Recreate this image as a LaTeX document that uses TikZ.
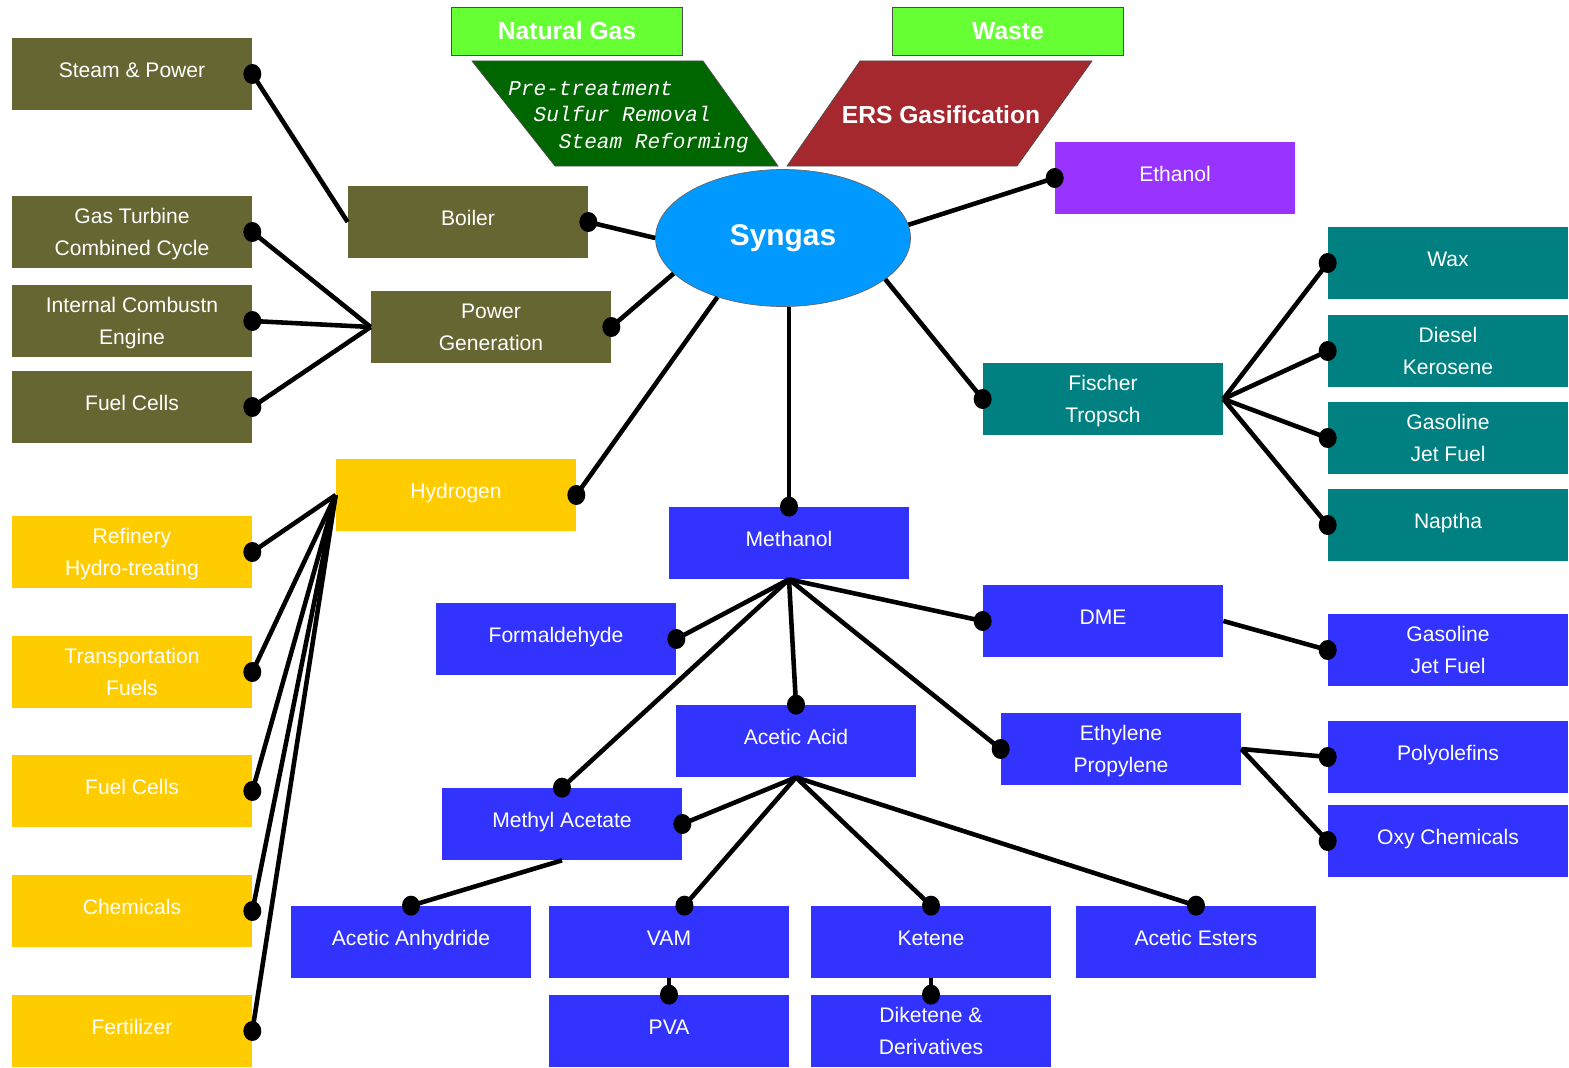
\documentclass[tikz,border=0pt]{standalone}
\usepackage{fontspec}
\setmainfont{Liberation Sans}
\newfontfamily\stepfont{Liberation Mono}
\usetikzlibrary{shapes.geometric}

\definecolor{oliveC}{HTML}{666633}
\definecolor{yellowC}{HTML}{FFCC00}
\definecolor{blueC}{HTML}{3333FF}
\definecolor{tealC}{HTML}{008080}
\definecolor{purpleC}{HTML}{9933FF}
\definecolor{skyC}{HTML}{0099FF}
\definecolor{limeC}{HTML}{66FF33}
\definecolor{forestC}{HTML}{006600}
\definecolor{brickC}{HTML}{A5282F}

\tikzset{
  box/.style={rectangle, minimum width=4.8cm, minimum height=1.44cm, inner sep=0pt,
    text=white, align=center, text depth=4.6pt, font=\fontsize{12}{18}\selectfont},
  twoline/.style={text depth=0pt},
  power/.style={box, fill=oliveC},
  hydro/.style={box, fill=yellowC},
  chem/.style={box, fill=blueC},
  ft/.style={box, fill=tealC},
  feed/.style={rectangle, draw=black!70, fill=limeC, minimum width=4.62cm, minimum height=0.96cm,
    inner sep=0pt, text=white, font=\bfseries\fontsize{14}{16}\selectfont},
  link/.style={line width=2.6pt, black},
}

\begin{document}
\begin{tikzpicture}[x=0.02cm, y=-0.02cm]
    \useasboundingbox (0,0) rectangle (1569,1068);
    % Draw the feeds and the two routes to syngas
    \node[feed] (natgas) at (567,31) {Natural Gas};
    \node[feed] (waste) at (1008,31) {Waste};
    \draw[draw=black!70, fill=forestC] (472,61) -- (703,61) -- (778,166) -- (555,166) -- cycle;
    \node[anchor=west, inner sep=0pt, align=left, text=white,
      font=\stepfont\itshape\fontsize{12}{15}\selectfont] (reforming) at (508,117)
      {Pre-treatment\\\hspace*{1.2em}Sulfur Removal\\\hspace*{2.4em}Steam Reforming};
    \draw[draw=black!70, fill=brickC] (860,61) -- (1092,61) -- (1017,166) -- (787,166) -- cycle;
    \node[text=white, font=\bfseries\fontsize{14}{16}\selectfont] (gasification) at (941,115) {ERS Gasification};
    \node[ellipse, draw=black!60, fill=skyC, minimum width=5.1cm, minimum height=2.74cm,
      text=white, font=\bfseries\fontsize{17}{20}\selectfont] (syngas) at (783,238) {Syngas};

    % Draw the power boxes
    \node[power] (steam) at (132,74) {Steam \& Power};
    \node[power, twoline] (gtcc) at (132,232) {Gas Turbine\\Combined Cycle};
    \node[power, twoline] (ice) at (132,321) {Internal Combustn\\Engine};
    \node[power] (pfc) at (132,407) {Fuel Cells};
    \node[power] (boiler) at (468,222) {Boiler};
    \node[power, twoline] (powergen) at (491,327) {Power\\Generation};

    % Draw the hydrogen boxes
    \node[hydro] (hydrogen) at (456,495) {Hydrogen};
    \node[hydro, twoline] (refinery) at (132,552) {Refinery\\Hydro-treating};
    \node[hydro, twoline] (transport) at (132,672) {Transportation\\Fuels};
    \node[hydro] (hfc) at (132,791) {Fuel Cells};
    \node[hydro] (chemicals) at (132,911) {Chemicals};
    \node[hydro] (fertilizer) at (132,1031) {Fertilizer};

    % Draw the Fischer Tropsch boxes and ethanol
    \node[box, fill=purpleC] (ethanol) at (1175,178) {Ethanol};
    \node[ft, twoline] (fischer) at (1103,399) {Fischer\\Tropsch};
    \node[ft] (wax) at (1448,263) {Wax};
    \node[ft, twoline] (diesel) at (1448,351) {Diesel\\Kerosene};
    \node[ft, twoline] (gasft) at (1448,438) {Gasoline\\Jet Fuel};
    \node[ft] (naptha) at (1448,525) {Naptha};

    % Draw the methanol boxes
    \node[chem] (methanol) at (789,543) {Methanol};
    \node[chem] (formaldehyde) at (556,639) {Formaldehyde};
    \node[chem] (dme) at (1103,621) {DME};
    \node[chem, twoline] (gasdme) at (1448,650) {Gasoline\\Jet Fuel};
    \node[chem] (acetic) at (796,741) {Acetic Acid};
    \node[chem, twoline] (olefins) at (1121,749) {Ethylene\\Propylene};
    \node[chem] (polyolefins) at (1448,757) {Polyolefins};
    \node[chem] (oxy) at (1448,841) {Oxy Chemicals};
    \node[chem] (methylac) at (562,824) {Methyl Acetate};
    \node[chem] (anhydride) at (411,942) {Acetic Anhydride};
    \node[chem] (vam) at (669,942) {VAM};
    \node[chem] (ketene) at (931,942) {Ketene};
    \node[chem] (esters) at (1196,942) {Acetic Esters};
    \node[chem] (pva) at (669,1031) {PVA};
    \node[chem, twoline] (diketene) at (931,1031) {Diketene \&\\Derivatives};

    % Draw the connectors
    \draw[link] (steam.east) -- (boiler.west);
    \draw[link] (boiler.east) -- (syngas.west);
    \draw[link] (powergen.east) -- (syngas.198);
    \foreach \n in {gtcc,ice,pfc}
      \draw[link] (\n.east) -- (powergen.west);
    \draw[link] (hydrogen.east) -- (syngas.222);
    \foreach \n in {refinery,transport,hfc,chemicals,fertilizer}
      \draw[link] (\n.east) -- (hydrogen.west);
    \draw[link] (syngas.south -| methanol.north) -- (methanol.north);
    \draw[link] (syngas.6) -- (ethanol.west);
    \draw[link] (syngas.338) -- (fischer.west);
    \foreach \n in {wax,diesel,gasft,naptha}
      \draw[link] (fischer.east) -- (\n.west);
    \foreach \n/\a in {formaldehyde/east, dme/west, acetic/north, olefins/west, methylac/north}
      \draw[link] (methanol.south) -- (\n.\a);
    \draw[link] (dme.east) -- (gasdme.west);
    \foreach \n in {polyolefins,oxy}
      \draw[link] (olefins.east) -- (\n.west);
    \foreach \n/\a in {methylac/east, vam/67, ketene/north, esters/north}
      \draw[link] (acetic.south) -- (\n.\a);
    \draw[link] (methylac.south) -- (anhydride.north);
    \draw[link] (vam.south) -- (pva.north);
    \draw[link] (ketene.south) -- (diketene.north);

    % Draw the dots
    \foreach \p in {steam.east, boiler.east, powergen.east, gtcc.east, ice.east, pfc.east,
      hydrogen.east, refinery.east, transport.east, hfc.east, chemicals.east, fertilizer.east,
      methanol.north, ethanol.west, fischer.west, wax.west, diesel.west, gasft.west, naptha.west,
      formaldehyde.east, dme.west, acetic.north, olefins.west, methylac.north, gasdme.west,
      polyolefins.west, oxy.west, methylac.east, vam.67, ketene.north, esters.north,
      anhydride.north, pva.north, diketene.north}{
      \fill[black] (\p) ellipse (0.18cm and 0.2cm);
    }
\end{tikzpicture}
\end{document}
